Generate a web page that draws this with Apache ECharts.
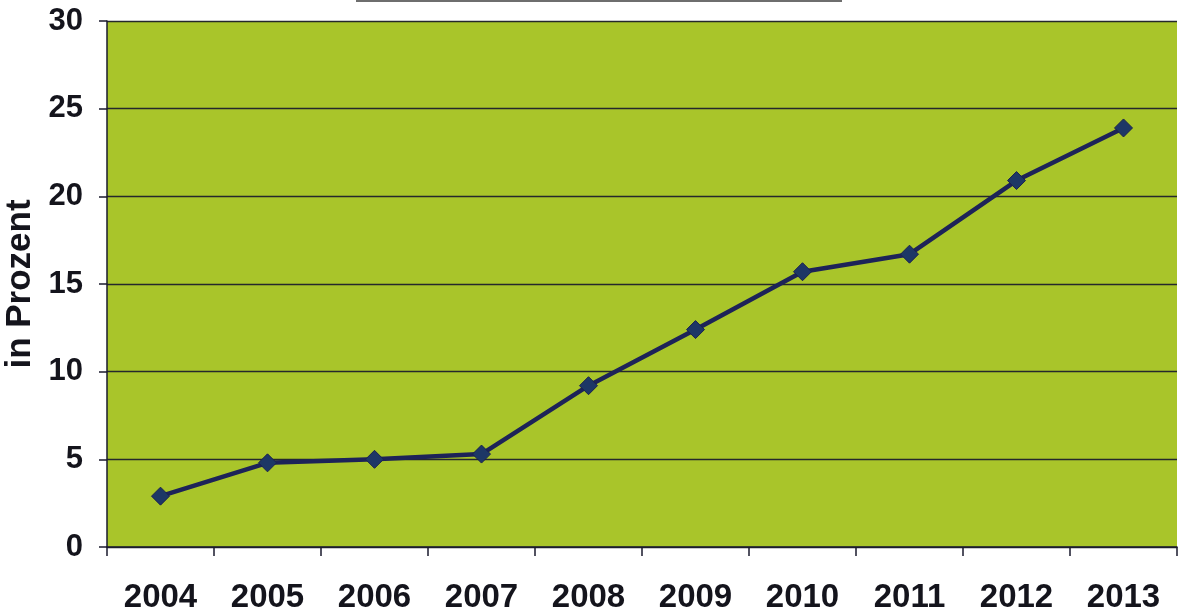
<!DOCTYPE html>
<html>
<head>
<meta charset="utf-8">
<script src="https://cdn.jsdelivr.net/npm/echarts@6/dist/echarts.min.js"></script>
<style>
html,body{margin:0;padding:0;background:#ffffff;}
#chart{width:1178px;height:609px;}
</style>
</head>
<body>
<div id="chart"></div>
<script>
const categories = ['2004','2005','2006','2007','2008','2009','2010','2011','2012','2013'];
const values = [2.9, 4.8, 5.0, 5.3, 9.2, 12.4, 15.7, 16.7, 20.9, 23.9];
const yTicks = { min: 0, max: 30, interval: 5 };
const yAxisName = 'in Prozent';

const chart = echarts.init(document.getElementById('chart'));
chart.setOption({
  backgroundColor: '#ffffff',
  animation: false,
  graphic: [{
    type: 'rect',
    left: 356, top: 0,
    shape: { width: 486, height: 2 },
    style: { fill: '#6e6e6e' }
  }],
  grid: {
    left: 107, right: 1, top: 21, bottom: 62,
    containLabel: false,
    outerBoundsMode: 'none',
    show: true, backgroundColor: '#a9c52a', borderWidth: 0
  },
  xAxis: {
    type: 'category',
    data: categories,
    boundaryGap: true,
    axisLine: { show: true, lineStyle: { color: '#1a1a2e', width: 1.5 } },
    axisTick: { show: true, length: 9, inside: false, lineStyle: { color: '#1a1a2e', width: 1.5 } },
    axisLabel: { margin: 34, color: '#14141c', fontSize: 33, fontWeight: 'bold', fontFamily: 'Liberation Sans, Arial, sans-serif' },
    splitLine: { show: false }
  },
  yAxis: {
    type: 'value',
    min: yTicks.min, max: yTicks.max, interval: yTicks.interval,
    name: yAxisName,
    nameLocation: 'middle',
    nameRotate: 90,
    nameGap: 63,
    nameTextStyle: { color: '#14141c', fontSize: 35, fontWeight: 'bold', fontFamily: 'Liberation Sans, Arial, sans-serif' },
    axisLine: { show: true, lineStyle: { color: '#1a1a2e', width: 1.5 } },
    axisTick: { show: true, length: 8, lineStyle: { color: '#1a1a2e', width: 1.5 } },
    axisLabel: { margin: 24, color: '#14141c', fontSize: 31, fontWeight: 'bold', fontFamily: 'Liberation Sans, Arial, sans-serif' },
    splitLine: { show: true, lineStyle: { color: '#25282c', width: 1.4 } }
  },
  series: [{
    type: 'line',
    data: values,
    symbol: 'diamond',
    symbolSize: 18,
    showAllSymbol: true,
    lineStyle: { color: '#1d2358', width: 4.5 },
    itemStyle: { color: '#1d3766', borderColor: '#1a2150', borderWidth: 1 },
    z: 3
  }]
});
</script>
</body>
</html>
